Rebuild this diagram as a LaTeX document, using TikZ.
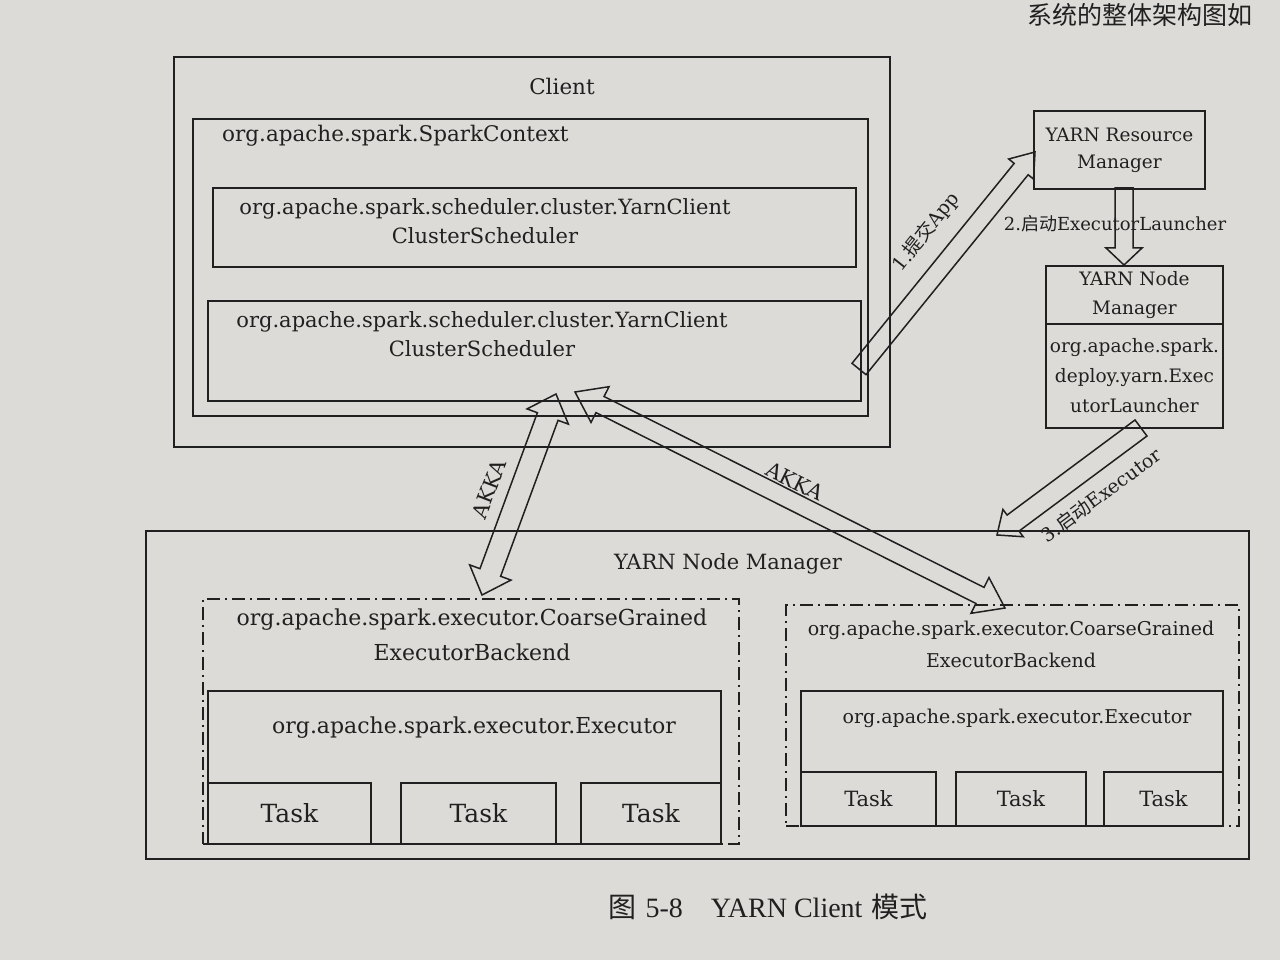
\documentclass[tikz,border=0pt]{standalone}
\usepackage{fontspec}
\setmainfont{DejaVu Serif}
\newfontfamily\cjk{Noto Sans CJK SC}
\newfontfamily\capfont{Liberation Serif}
\usetikzlibrary{calc}
\definecolor{paper}{RGB}{220,219,216}
\definecolor{ink}{RGB}{32,32,32}
\newcommand\fsz[2]{\fontsize{#1pt}{#2pt}\selectfont}
\newcommand\singleblock[5]{%
  \coordinate (sbH) at ($(#2)!#5!(#1)$);
  \draw[blk] ($(#1)!#3!90:(#2)$) -- ($(sbH)!#3!90:(#2)$) -- ($(sbH)!#4!90:(#2)$) -- (#2)
    -- ($(sbH)!#4!-90:(#2)$) -- ($(sbH)!#3!-90:(#2)$) -- ($(#1)!#3!-90:(#2)$) -- cycle;}
\newcommand\doubleblock[5]{%
  \coordinate (dbHa) at ($(#1)!#5!(#2)$);
  \coordinate (dbHb) at ($(#2)!#5!(#1)$);
  \draw[blk] (#1) -- ($(dbHa)!#4!90:(#2)$) -- ($(dbHa)!#3!90:(#2)$) -- ($(dbHb)!#3!-90:(#1)$)
    -- ($(dbHb)!#4!-90:(#1)$) -- (#2) -- ($(dbHb)!#4!90:(#1)$) -- ($(dbHb)!#3!90:(#1)$)
    -- ($(dbHa)!#3!-90:(#2)$) -- ($(dbHa)!#4!-90:(#2)$) -- cycle;}
\begin{document}
\begin{tikzpicture}[x=1pt,y=-1pt,
  box/.style={draw=ink,line width=1.9pt,inner sep=0pt,anchor=north west,text=ink,align=center},
  ddbox/.style={box,line width=1.7pt,dash pattern=on 13pt off 5pt on 2pt off 5pt},
  txt/.style={text=ink,inner sep=0pt,align=center},
  blk/.style={draw=ink,line width=1.5pt,line join=miter}]
\fill[paper] (0,0) rectangle (1280,960);
\useasboundingbox (0,0) rectangle (1280,960);

% Client part
\node[box,minimum width=716pt,minimum height=390pt] (client) at (173,56) {};
\node[box,minimum width=675pt,minimum height=297pt] (sc) at (192,118) {};
\node[box,minimum width=643pt,minimum height=79pt] (ys1) at (212,187) {};
\node[box,minimum width=653pt,minimum height=100pt] (ys2) at (207,300) {};
\node[txt,font=\fsz{21.5}{26}] (clientl) at (562,86) {Client};
\node[txt,font=\fsz{21.5}{26},anchor=west] (scl) at (222,136) {org.apache.spark.SparkContext};
\node[txt,font=\fsz{21}{29}] (ys1l) at (485,221) {org.apache.spark.scheduler.cluster.YarnClient\\ClusterScheduler};
\node[txt,font=\fsz{21}{29}] (ys2l) at (482,334) {org.apache.spark.scheduler.cluster.YarnClient\\ClusterScheduler};

% Node manager (bottom)
\node[box,minimum width=1103pt,minimum height=328pt] (nm) at (145,530) {};
\node[txt,font=\fsz{21}{26}] (nml) at (728,564) {YARN Node Manager};

\node[ddbox,minimum width=536pt,minimum height=245pt] (cgb1) at (202,598) {};
\node[txt,font=\fsz{22}{35}] (cgb1l) at (472,635) {org.apache.spark.executor.CoarseGrained\\ExecutorBackend};
\node[box,minimum width=513pt,minimum height=153pt] (ex1) at (207,690) {};
\node[txt,font=\fsz{22}{26}] (ex1l) at (474,728) {org.apache.spark.executor.Executor};
\node[box,minimum width=163pt,minimum height=61pt,font=\fsz{25}{30}] (t11) at (207,782) {Task};
\node[box,minimum width=155pt,minimum height=61pt,font=\fsz{25}{30}] (t12) at (400,782) {Task};
\node[box,minimum width=140pt,minimum height=61pt,font=\fsz{25}{30}] (t13) at (580,782) {Task};

\node[ddbox,minimum width=453pt,minimum height=221pt] (cgb2) at (785,604) {};
\node[txt,font=\fsz{19}{32}] (cgb2l) at (1011,644) {org.apache.spark.executor.CoarseGrained\\ExecutorBackend};
\node[box,minimum width=422pt,minimum height=135pt] (ex2) at (800,690) {};
\node[txt,font=\fsz{19}{24}] (ex2l) at (1017,718) {org.apache.spark.executor.Executor};
\node[box,minimum width=135pt,minimum height=54pt,font=\fsz{21}{26}] (t21) at (800,771) {Task};
\node[box,minimum width=130pt,minimum height=54pt,font=\fsz{21}{26}] (t22) at (955,771) {Task};
\node[box,minimum width=119pt,minimum height=54pt,font=\fsz{21}{26}] (t23) at (1103,771) {Task};

% YARN RM and NM
\node[box,minimum width=171pt,minimum height=78pt,font=\fsz{18.5}{27}] (rm) at (1033,110) {YARN Resource\\Manager};
\node[box,minimum width=177pt,minimum height=58pt,font=\fsz{18.5}{29}] (snmu) at (1045,265) {YARN Node\\Manager};
\node[box,minimum width=177pt,minimum height=104pt,font=\fsz{18.5}{30}] (snml) at (1045,323) {org.apache.spark.\\deploy.yarn.Exec\\utorLauncher};

% Arrows
\coordinate (a1s) at (859,369);
\coordinate (a1e) at (1035,152);
\singleblock{a1s}{a1e}{9pt}{16pt}{22pt}
\node[txt,font=\fsz{19}{22},rotate=51.6] (a1l) at (926,232) {1.{\cjk 提交}App};

\coordinate (a2s) at (1124,188);
\coordinate (a2e) at (1124,265);
\singleblock{a2s}{a2e}{9pt}{18pt}{17pt}
\node[txt,font=\fsz{18}{22}] (a2l) at (1115,224) {2.{\cjk 启动}ExecutorLauncher};

\coordinate (a3s) at (1141,428);
\coordinate (a3e) at (997,535);
\singleblock{a3s}{a3e}{10pt}{17pt}{20pt}
\node[txt,font=\fsz{19}{22},rotate=36.6] (a3l) at (1101,495) {3.{\cjk 启动}Executor};

\coordinate (k1a) at (556,394);
\coordinate (k1b) at (482,595);
\doubleblock{k1a}{k1b}{11pt}{22pt}{24pt}
\node[txt,font=\fsz{21}{24},rotate=69] (k1l) at (489,489) {AKKA};

\coordinate (k2a) at (575,392);
\coordinate (k2b) at (1005,608);
\doubleblock{k2a}{k2b}{9pt}{20pt}{28pt}
\node[txt,font=\fsz{21}{24},rotate=-26.5] (k2l) at (795,481) {AKKA};

% caption and page text
\node[txt,font=\fsz{28}{32}] (cap) at (768,907) {{\cjk 图} {\capfont 5-8}\hspace{1em}{\capfont YARN Client} {\cjk 模式}};
\node[txt,font=\fsz{25}{30}\cjk] (pagetxt) at (1140,15) {系统的整体架构图如};
\end{tikzpicture}
\end{document}
